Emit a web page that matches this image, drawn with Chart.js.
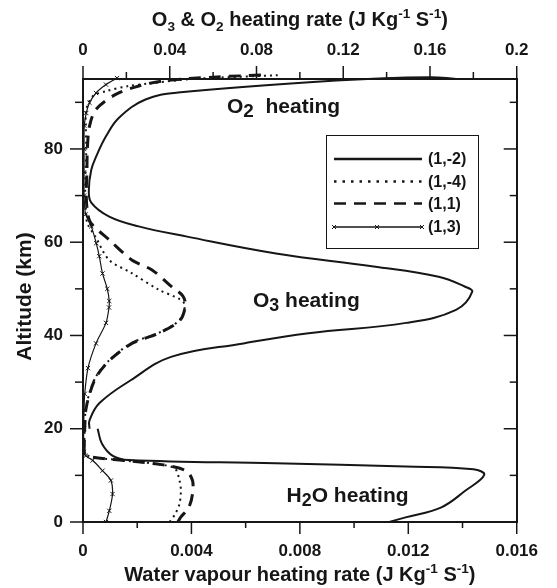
<!DOCTYPE html>
<html>
<head>
<meta charset="utf-8">
<script src="https://cdn.jsdelivr.net/npm/chart.js@4.4.1/dist/chart.umd.min.js"></script>
<style>
  html, body { margin: 0; padding: 0; background: #fff; }
  #wrap { width: 557px; height: 588px; }
</style>
</head>
<body>
<div id="wrap"><canvas id="myChart" width="557" height="588"></canvas></div>
<script>
// ---- axes ----
const topTicks = [0, 0.04, 0.08, 0.12, 0.16, 0.2];
const topTickLabels = ['0', '0.04', '0.08', '0.12', '0.16', '0.2'];
const botTicks = [0, 0.004, 0.008, 0.012, 0.016];
const botTickLabels = ['0', '0.004', '0.008', '0.012', '0.016'];
const altTicks = [0, 20, 40, 60, 80];
const altTickLabels = ['0', '20', '40', '60', '80'];
const altMax = 95;

const seriesLabels = ['(1,-2)', '(1,-4)', '(1,1)', '(1,3)'];

// ---- O3 & O2 heating rate (top axis) ----
const altO_a = [20, 21.8, 25.5, 30.4, 35.4, 38.3, 40.5, 42.7, 45.5, 49.4, 50.5, 52.6, 54.8, 57.6, 61.2, 63.4, 65.5, 68.5, 71.2, 75.5, 78.4, 82.7, 86.7, 90.6, 92.1, 94.75, 95.4, 95.0];
const rateO_a = [0.003, 0.003, 0.0076, 0.022, 0.0406, 0.074, 0.104, 0.149, 0.172, 0.1795, 0.176, 0.164, 0.134, 0.089, 0.048, 0.0257, 0.0121, 0.0038, 0.0027, 0.0038, 0.0061, 0.0106, 0.0166, 0.0288, 0.0438, 0.119, 0.16, 0.172];

const altO_b = [15, 20, 24, 27.7, 31.2, 34.7, 38.4, 40.5, 43.3, 46.5, 47.8, 49.8, 53.5, 56.2, 61.2, 64, 66, 70, 75, 80, 85, 88.5, 91.3, 92.4, 93.5, 94.0, 95.0, 95.8];
const rateO_b = [0.0005, 0.0008, 0.0012, 0.003, 0.006, 0.0121, 0.0225, 0.0347, 0.0445, 0.047, 0.0445, 0.035, 0.022, 0.012, 0.0057, 0.002, 0.0015, 0.001, 0.0012, 0.0015, 0.0013, 0.0015, 0.0045, 0.0106, 0.021, 0.03, 0.05, 0.09];

const altO_c = [15, 20, 24, 27.7, 31.2, 34.7, 38.4, 40.5, 43.3, 46.5, 48.5, 50.4, 54, 56.2, 60.5, 64, 66, 70, 75, 80, 84.9, 88.5, 91.7, 93.5, 94.6, 95.4, 95.9];
const rateO_c = [0.0005, 0.0008, 0.0013, 0.0032, 0.0062, 0.0123, 0.023, 0.035, 0.0448, 0.0472, 0.046, 0.041, 0.032, 0.0225, 0.0121, 0.0038, 0.0022, 0.0015, 0.0018, 0.002, 0.003, 0.006, 0.0151, 0.0257, 0.037, 0.06, 0.085];

const altO_d = [15, 20, 24, 27.5, 33, 38.3, 42.7, 46, 47.4, 50, 53.3, 57, 59.8, 63.4, 66, 70, 75, 80, 85, 87.7, 89.9, 92, 93.8, 95.2];
const rateO_d = [0.0003, 0.0003, 0.0005, 0.0008, 0.0023, 0.006, 0.0106, 0.012, 0.0121, 0.0112, 0.009, 0.0075, 0.0061, 0.0038, 0.0012, 0.0005, 0.0005, 0.0005, 0.0006, 0.0015, 0.003, 0.006, 0.0106, 0.0157];

// ---- water vapour heating rate (bottom axis) ----
const altW_a = [0, 1, 3.1, 6.7, 10.1, 11.3, 11.9, 12.6, 13.3, 14.2, 16.8, 20];
const rateW_a = [0.0113, 0.0119, 0.0132, 0.0141, 0.0148, 0.0144, 0.0119, 0.0071, 0.0017, 0.0011, 0.0007, 0.00054];

const altW_b = [0, 1.7, 3.9, 6.7, 8.9, 11.4, 12.3, 13.2, 13.9, 14.5, 15];
const rateW_b = [0.0032, 0.0034, 0.00356, 0.00361, 0.00356, 0.0034, 0.0029, 0.0015, 0.00036, 0.0001, 0.00003];

const altW_c = [0, 1, 3.1, 6, 8.9, 11, 12.3, 13.2, 13.9, 14.5, 15];
const rateW_c = [0.0035, 0.0036, 0.0039, 0.00404, 0.00404, 0.0038, 0.0029, 0.0015, 0.00036, 0.0001, 0.00003];

const altW_d = [0, 2.4, 6, 8.9, 11, 13.2, 14.2, 15];
const rateW_d = [0.00085, 0.00097, 0.00109, 0.00103, 0.00072, 0.00036, 0.0001, 0.00003];


  /////////////////////////
 // STYLES + DATASETS   //
/////////////////////////

const ink = '#161616';
const FONT = '"Liberation Sans", Arial, Helvetica, sans-serif';

const lineStyles = [
  { borderWidth: 2, borderDash: [], pointRadius: 0, tension: 0.4 },
  { borderWidth: 2, borderDash: [2, 4], pointRadius: 0, tension: 0.3 },
  { borderWidth: 3, borderDash: [12, 8], pointRadius: 0, tension: 0.3 },
  { borderWidth: 1.2, borderDash: [], pointRadius: 3, pointStyle: 'crossRot', tension: 0.3 }
];

const pts = (alt, rate) => alt.map((a, i) => ({ x: rate[i], y: a }));

const upper = [[altO_a, rateO_a], [altO_b, rateO_b], [altO_c, rateO_c], [altO_d, rateO_d]];
const lower = [[altW_a, rateW_a], [altW_b, rateW_b], [altW_c, rateW_c], [altW_d, rateW_d]];

function makeSet(pair, i, axis) {
  return Object.assign({
    label: seriesLabels[i],
    data: pts(pair[0], pair[1]),
    xAxisID: axis,
    yAxisID: 'y',
    showLine: true,
    borderColor: ink,
    backgroundColor: ink,
    pointBorderColor: ink,
    pointBorderWidth: 1,
    fill: false,
    clip: { left: 0, top: 8, right: 0, bottom: 0 }
  }, lineStyles[i]);
}

const datasets = upper.map((p, i) => makeSet(p, i, 'xTop'))
  .concat(lower.map((p, i) => makeSet(p, i, 'xBot')));


  /////////////////////////
 // TEXT HELPER         //
/////////////////////////

function richText(ctx, parts, x, y, size, small, subDy) {
  const font = s => `bold ${s}px ${FONT}`;
  const seg = parts.map(([t, m]) => {
    const s = m ? size * small : size;
    ctx.font = font(s);
    const dy = m === 'sub' ? size * subDy : (m === 'sup' ? -size * 0.38 : 0);
    return { t, s, dy, w: ctx.measureText(t).width };
  });
  const total = seg.reduce((acc, p) => acc + p.w, 0);
  let cx = x - total / 2;
  ctx.textAlign = 'left';
  ctx.textBaseline = 'alphabetic';
  seg.forEach(p => {
    ctx.font = font(p.s);
    ctx.fillText(p.t, cx, y + p.dy);
    cx += p.w;
  });
}


  /////////////////////////
 // PLUGINS             //
/////////////////////////

const frameDeco = {
  id: 'frameDeco',
  afterDraw(chart) {
    const { ctx, chartArea: a, scales } = chart;
    ctx.save();
    ctx.strokeStyle = ink;
    ctx.fillStyle = ink;
    ctx.lineWidth = 1.5;
    const seg = (x1, y1, x2, y2) => {
      ctx.beginPath(); ctx.moveTo(x1, y1); ctx.lineTo(x2, y2); ctx.stroke();
    };

    // top axis : ticks outward (up)
    topTicks.forEach((v, i) => {
      const x = scales.xTop.getPixelForValue(v);
      seg(x, a.top, x, a.top - 13);
      if (i < topTicks.length - 1) {
        const xm = scales.xTop.getPixelForValue((v + topTicks[i + 1]) / 2);
        seg(xm, a.top, xm, a.top - 7);
      }
    });
    // bottom axis : ticks outward (down)
    botTicks.forEach((v, i) => {
      const x = scales.xBot.getPixelForValue(v);
      seg(x, a.bottom, x, a.bottom + 12);
      if (i < botTicks.length - 1) {
        const xm = scales.xBot.getPixelForValue((v + botTicks[i + 1]) / 2);
        seg(xm, a.bottom, xm, a.bottom + 6);
      }
    });
    // left axis outward, right axis inward
    altTicks.forEach((v) => {
      const y = scales.y.getPixelForValue(v);
      seg(a.left, y, a.left - 13, y);
      const ym = scales.y.getPixelForValue(v + 10);
      seg(a.left, ym, a.left - 8, ym);
      if (v > 0) seg(a.right, y, a.right - 13, y);
      seg(a.right, ym, a.right - 7, ym);
    });

    // axis titles
    ctx.fillStyle = ink;
    richText(ctx, [['O', ''], ['3', 'sub'], [' & O', ''], ['2', 'sub'], [' heating rate (J Kg', ''], ['-1', 'sup'], [' S', ''], ['-1', 'sup'], [')', '']],
      (a.left + a.right) / 2, 26, 20, 0.68, 0.25);
    richText(ctx, [['Water vapour heating rate (J Kg', ''], ['-1', 'sup'], [' S', ''], ['-1', 'sup'], [')', '']],
      (a.left + a.right) / 2, 581, 20, 0.68, 0.25);
    ctx.save();
    ctx.translate(31, (a.top + a.bottom) / 2 - 4);
    ctx.rotate(-Math.PI / 2);
    richText(ctx, [['Altitude (km)', '']], 0, 0, 21, 1, 0);
    ctx.restore();

    // in-plot labels
    richText(ctx, [['O', ''], ['2', 'sub'], ['  heating', '']],
      scales.xTop.getPixelForValue(0.0925), scales.y.getPixelForValue(87.7), 21, 0.9, 0.2);
    richText(ctx, [['O', ''], ['3', 'sub'], [' heating', '']],
      scales.xTop.getPixelForValue(0.103), scales.y.getPixelForValue(46.2), 21, 0.85, 0.22);
    richText(ctx, [['H', ''], ['2', 'sub'], ['O heating', '']],
      scales.xBot.getPixelForValue(0.00976), scales.y.getPixelForValue(4.35), 21, 0.85, 0.22);

    // legend box
    const bx = 326, by = 135, bw = 152, bh = 113;
    ctx.lineWidth = 1;
    ctx.strokeRect(bx + 0.5, by + 0.5, bw, bh);
    const rows = [159, 181.5, 203.5, 227];
    ctx.font = `bold 16px ${FONT}`;
    ctx.textBaseline = 'middle';
    ctx.textAlign = 'left';
    seriesLabels.forEach((lab, i) => {
      const st = lineStyles[i];
      const y = rows[i];
      ctx.save();
      ctx.lineWidth = i === 1 ? 2.5 : (i === 3 ? 1.5 : 2.5);
      ctx.setLineDash(i === 1 ? [2.5, 6] : st.borderDash);
      seg(334, y, 422, y);
      ctx.restore();
      if (i === 3) {
        [334, 377, 422].forEach(px => {
          ctx.save(); ctx.lineWidth = 1;
          seg(px - 2, y - 2, px + 2, y + 2); seg(px - 2, y + 2, px + 2, y - 2);
          ctx.restore();
        });
      }
      ctx.fillText(lab, 428, y + 1);
    });
    ctx.restore();
  }
};


  /////////////////////////
 // CHART               //
/////////////////////////

const tickFont = { family: FONT, size: 17, weight: 'bold' };

new Chart(document.getElementById('myChart').getContext('2d'), {
  type: 'scatter',
  data: { datasets },
  options: {
    responsive: false,
    animation: false,
    devicePixelRatio: 1,
    layout: { padding: 0 },
    plugins: { legend: { display: false }, tooltip: { enabled: false } },
    scales: {
      xTop: {
        type: 'linear', position: 'top', min: 0, max: 0.2,
        afterBuildTicks: s => { s.ticks = topTicks.map(v => ({ value: v })); },
        afterFit: s => { s.height = 79; },
        ticks: { callback: (v, i) => topTickLabels[i], font: tickFont, color: ink, padding: 18, maxRotation: 0, autoSkip: false },
        grid: { display: false, drawTicks: false },
        border: { display: true, color: ink, width: 2 }
      },
      xBot: {
        type: 'linear', position: 'bottom', min: 0, max: 0.016,
        afterBuildTicks: s => { s.ticks = botTicks.map(v => ({ value: v })); },
        afterFit: s => { s.height = 66; },
        ticks: { callback: (v, i) => botTickLabels[i], font: tickFont, color: ink, padding: 19, maxRotation: 0, autoSkip: false },
        grid: { display: false, drawTicks: false },
        border: { display: true, color: ink, width: 2 }
      },
      y: {
        type: 'linear', position: 'left', min: 0, max: altMax,
        afterBuildTicks: s => { s.ticks = altTicks.map(v => ({ value: v })); },
        afterFit: s => { s.width = 83; },
        ticks: { callback: (v, i) => altTickLabels[i], font: tickFont, color: ink, padding: 20, autoSkip: false },
        grid: { display: false, drawTicks: false },
        border: { display: true, color: ink, width: 2 }
      },
      yR: {
        type: 'linear', position: 'right', min: 0, max: altMax,
        afterFit: s => { s.width = 32; },
        ticks: { display: false },
        grid: { display: false, drawTicks: false },
        border: { display: true, color: ink, width: 2 }
      }
    }
  },
  plugins: [frameDeco]
});
</script>
</body>
</html>
